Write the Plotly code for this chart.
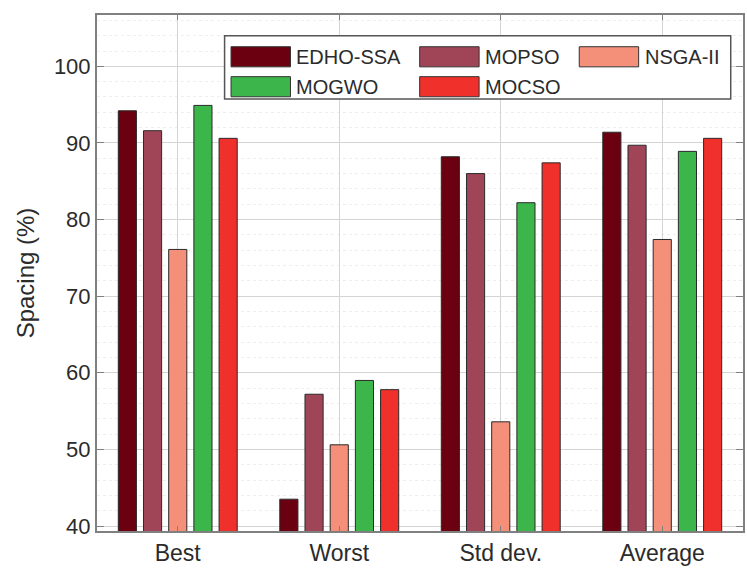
import plotly.graph_objects as go

# Spacing results per metric for each algorithm
categories = ["Best", "Worst", "Std dev.", "Average"]
algorithms = ["EDHO-SSA", "MOPSO", "NSGA-II", "MOGWO", "MOCSO"]
edho_ssa = [94.2, 43.5, 88.2, 91.4]
mopso = [91.6, 57.2, 86.0, 89.7]
nsga_ii = [76.1, 50.6, 53.6, 77.4]
mogwo = [94.9, 59.0, 82.2, 88.9]
mocso = [90.6, 57.8, 87.4, 90.6]
colors = ["#6a0010", "#a04457", "#f4907a", "#3cb54b", "#f0302a"]
y_ticks = [40, 50, 60, 70, 80, 90, 100]

series = [edho_ssa, mopso, nsga_ii, mogwo, mocso]
xpos = list(range(1, len(categories) + 1))

FONT = "Liberation Sans, Arial, sans-serif"
TXT = "#2b2b2b"

fig = go.Figure()
for name, vals, col in zip(algorithms, series, colors):
    fig.add_trace(go.Bar(
        x=xpos, y=vals, name=name,
        marker=dict(color=col, line=dict(color="#2a2a2a", width=1)),
        showlegend=False,
    ))

# Legend drawn as a framed box with wide swatches
shapes = [dict(type="rect", xref="paper", yref="paper",
               x0=0.1975, x1=0.981, y0=0.837, y1=0.96,
               line=dict(color="#555555", width=1.5), fillcolor="white", layer="above")]
annotations = []
col_x = [0.2075, 0.4995, 0.7465]
row_y = [0.919, 0.861]
sw_w, sw_h = 0.092, 0.039
for i, (name, col) in enumerate(zip(algorithms, colors)):
    r, c = divmod(i, 3)
    x0 = col_x[c]
    yc = row_y[r]
    shapes.append(dict(type="rect", xref="paper", yref="paper",
                       x0=x0, x1=x0 + sw_w, y0=yc - sw_h / 2, y1=yc + sw_h / 2,
                       line=dict(color="#333333", width=1), fillcolor=col, layer="above"))
    annotations.append(dict(xref="paper", yref="paper", x=x0 + sw_w + 0.006, y=yc,
                            text=name, showarrow=False, xanchor="left", yanchor="middle",
                            font=dict(family=FONT, size=20, color=TXT)))

fig.update_layout(
    width=747, height=568,
    margin=dict(l=97, r=2, t=15, b=36),
    paper_bgcolor="white", plot_bgcolor="white",
    barmode="group", bargap=0.22, bargroupgap=0.28,
    shapes=shapes, annotations=annotations,
    font=dict(family=FONT, color=TXT),
)

fig.update_xaxes(
    range=[0.5, 4.5], tickvals=xpos, ticktext=categories,
    tickfont=dict(size=23, color=TXT),
    showgrid=True, gridcolor="#d4d4d4", gridwidth=1,
    showline=True, linecolor="#808080", linewidth=2, mirror="ticks",
    ticks="inside", ticklen=5, tickcolor="#808080", zeroline=False,
)
fig.update_yaxes(
    range=[39.35, 106.7], tickvals=y_ticks,
    tickfont=dict(size=22, color=TXT),
    title=dict(text="Spacing (%)", font=dict(size=24, color=TXT), standoff=12),
    showgrid=True, gridcolor="#d4d4d4", gridwidth=1,
    minor=dict(showgrid=True, dtick=2, gridcolor="#eeeeee", griddash="dot", ticks=""),
    showline=True, linecolor="#808080", linewidth=2, mirror="ticks",
    ticks="inside", ticklen=7, tickcolor="#808080", zeroline=False,
)

fig.write_html("out.html")
